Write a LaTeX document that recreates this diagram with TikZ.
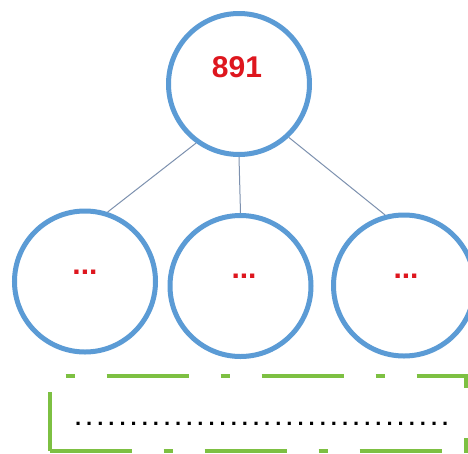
\documentclass[tikz,border=0pt]{standalone}
\usepackage{fontspec}
\setmainfont{Liberation Sans}
\definecolor{cblue}{RGB}{91,155,213}
\definecolor{cgreen}{RGB}{125,192,66}
\definecolor{cred}{RGB}{222,22,30}
\definecolor{cline}{RGB}{125,145,175}
\newcommand{\dd}{\makebox[11.12pt][c]{.}}
\tikzset{
  circ/.style={circle,draw=cblue,line width=5pt,minimum size=141pt,inner sep=0pt,fill=white},
  lbl/.style={text=cred,font=\bfseries\fontsize{30}{30}\selectfont,inner sep=0pt},
  conn/.style={draw=cline,line width=1pt},
  gbox/.style={draw=cgreen,line width=4pt},
  dotline/.style={font=\bfseries\fontsize{22}{22}\selectfont,inner sep=0pt,text=black}
}
\begin{document}
\begin{tikzpicture}[x=1pt,y=-1pt]
\fill[white] (0,0) rectangle (468,453);
\useasboundingbox (0,0) rectangle (468,453);
% circles
\node[circ] (top) at (239,84) {};
\node[circ] (c1) at (85,281.5) {};
\node[circ] (c2) at (240.5,286) {};
\node[circ] (c3) at (404,285.5) {};
% labels
\node[lbl,anchor=center] (t0) at (237,67) {891};
\node[lbl,anchor=base] (t1) at (85,274.5) {...};
\node[lbl,anchor=base] (t2) at (244,278.5) {...};
\node[lbl,anchor=base] (t3) at (406,278.5) {...};
% connectors
\draw[conn] (top.234) -- (c1.72);
\draw[conn] (top.270) -- (c2.90);
\draw[conn] (top.313) -- (c3.105);
% green dash-dot box
\coordinate (btl) at (49.5,376);
\coordinate (btr) at (468,376);
\coordinate (bbl) at (49.5,450.5);
\coordinate (bblx) at (47.5,450.5);
\coordinate (bbr) at (468,450.5);
\coordinate (brt) at (465.5,376);
\coordinate (brb) at (465.5,453);
\draw[gbox,dash pattern=on 82pt off 32pt on 9pt off 32pt,dash phase=98pt] (btl) -- (btr);
\draw[gbox,dash pattern=on 82pt off 32pt on 9pt off 32pt,dash phase=153pt] (bblx) -- (bbr);
\draw[gbox,dash pattern=on 82pt off 32pt on 9pt off 32pt,dash phase=139pt] (btl) -- (bbl);
\draw[gbox,dash pattern=on 12pt off 50pt on 40pt off 10pt] (brt) -- (brb);
% dotted text line
\node[dotline,anchor=base west] (dots) at (72.4,425.5) {\dd\dd\dd\dd\dd\dd\dd\dd\dd\dd\dd\dd\dd\dd\dd\dd\dd\dd\dd\dd\dd\dd\dd\dd\dd\dd\dd\dd\dd\dd\dd\dd\dd\dd};
\end{tikzpicture}
\end{document}
